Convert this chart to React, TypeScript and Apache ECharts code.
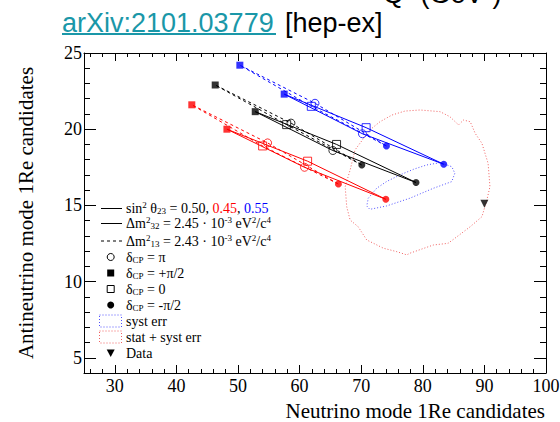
import React, { useEffect, useRef } from 'react';
import * as echarts from 'echarts';

// delta_CP order for every ellipse: -π/2, 0, +π/2, π
const deltaCP = ['-π/2', '0', '+π/2', 'π'];

// sin^2 θ23 = 0.45 (red)
const s045Normal = [[74.0, 15.4], [61.3, 17.9], [48.2, 20.0], [60.8, 17.5]];
const s045Inverted = [[66.3, 16.4], [54.0, 18.9], [42.5, 21.6], [54.8, 19.1]];
// sin^2 θ23 = 0.50 (black)
const s050Normal = [[78.9, 16.5], [66.0, 19.0], [52.8, 21.15], [65.4, 18.6]];
const s050Inverted = [[70.1, 17.65], [57.9, 20.3], [46.3, 22.9], [58.6, 20.4]];
// sin^2 θ23 = 0.55 (blue)
const s055Normal = [[83.4, 17.7], [70.8, 20.1], [57.5, 22.3], [70.2, 19.7]];
const s055Inverted = [[74.1, 18.9], [61.9, 21.5], [50.3, 24.2], [62.5, 21.7]];

const dataPoint = [90.0, 15.1];

const systErrContour = [
  [70.9, 14.96], [71.4, 14.74], [74.1, 14.96], [77.9, 15.47], [81.7, 16.12],
  [84.7, 16.56], [85.2, 17.11], [84.7, 17.54], [82.8, 17.8], [80.6, 17.65],
  [78.5, 17.37], [76.3, 17.0], [74.1, 16.56], [72.5, 16.12], [71.15, 15.47],
];

const statSystContour = [
  [71.4, 19.95], [73.05, 20.49], [75.0, 20.93], [77.1, 21.19], [79.55, 21.26],
  [82.8, 21.15], [84.4, 20.82], [85.8, 20.28], [86.6, 20.6], [87.7, 20.49],
  [88.5, 19.73], [89.6, 19.07], [90.6, 17.76], [90.9, 16.23], [90.4, 15.35],
  [89.6, 14.26], [87.7, 13.6], [85.2, 12.84], [84.1, 12.51], [81.7, 12.4],
  [77.9, 11.86], [77.4, 11.75], [75.8, 11.96], [73.6, 12.19], [70.9, 12.73],
  [69.5, 13.6], [68.2, 14.04], [67.65, 14.91], [67.4, 16.23], [68.2, 17.32],
  [69.0, 18.64],
];

const xMajorTicks = [30, 40, 50, 60, 70, 80, 90, 100];
const xMinorTicks = [26, 28, 32, 34, 36, 38, 42, 44, 46, 48, 52, 54, 56, 58, 62, 64, 66, 68, 72, 74, 76, 78, 82, 84, 86, 88, 92, 94, 96, 98];
const yMajorTicks = [5, 10, 15, 20, 25];
const yMinorTicks = [6, 7, 8, 9, 11, 12, 13, 14, 16, 17, 18, 19, 21, 22, 23, 24];

const X_MIN = 25;
const X_MAX = 100;
const Y_MIN = 4;
const Y_MAX = 25;

const RED = '#ff0000';
const BLUE = '#0000ff';
const BLACK = '#000000';
const SERIF = 'Liberation Serif';
const LINK = '#1a97a8';

const markerSymbols = ['circle', 'rect', 'rect', 'circle'];
const markerFilled = [true, false, true, false];
const markerSizes = [7, 8, 7, 8];

const ellipses = [
  { name: 'sin2θ23=0.45 Δm2_32', pts: s045Normal, color: RED, dashed: false },
  { name: 'sin2θ23=0.45 Δm2_13', pts: s045Inverted, color: RED, dashed: true },
  { name: 'sin2θ23=0.50 Δm2_32', pts: s050Normal, color: BLACK, dashed: false },
  { name: 'sin2θ23=0.50 Δm2_13', pts: s050Inverted, color: BLACK, dashed: true },
  { name: 'sin2θ23=0.55 Δm2_32', pts: s055Normal, color: BLUE, dashed: false },
  { name: 'sin2θ23=0.55 Δm2_13', pts: s055Inverted, color: BLUE, dashed: true },
];

function makeXAxis(position: 'bottom' | 'top', major: boolean, labels: boolean) {
  return {
    type: 'value',
    min: X_MIN,
    max: X_MAX,
    position,
    axisLine: { show: major, onZero: false, lineStyle: { color: BLACK, width: 1 } },
    axisTick: {
      show: true,
      inside: true,
      length: major ? 8 : 4,
      customValues: major ? xMajorTicks : xMinorTicks,
      lineStyle: { color: BLACK, width: 1 },
    },
    axisLabel: labels
      ? { show: true, customValues: xMajorTicks, fontFamily: SERIF, fontSize: 18, color: BLACK, margin: 4 }
      : { show: false },
    splitLine: { show: false },
  };
}

function makeYAxis(position: 'left' | 'right', major: boolean, labels: boolean) {
  return {
    type: 'value',
    min: Y_MIN,
    max: Y_MAX,
    position,
    axisLine: { show: major, onZero: false, lineStyle: { color: BLACK, width: 1 } },
    axisTick: {
      show: true,
      inside: true,
      length: major ? 12 : 6,
      customValues: major ? yMajorTicks : yMinorTicks,
      lineStyle: { color: BLACK, width: 1 },
    },
    axisLabel: labels
      ? { show: true, customValues: yMajorTicks, fontFamily: SERIF, fontSize: 18, color: BLACK, margin: 2 }
      : { show: false },
    splitLine: { show: false },
  };
}

const richBase = {
  n: { fontSize: 14, fontFamily: SERIF, fill: BLACK, verticalAlign: 'middle' },
  r: { fontSize: 14, fontFamily: SERIF, fill: RED, verticalAlign: 'middle' },
  bl: { fontSize: 14, fontFamily: SERIF, fill: BLUE, verticalAlign: 'middle' },
  sup: { fontSize: 9, fontFamily: SERIF, fill: BLACK, padding: [0, 0, 7, 0], verticalAlign: 'middle' },
  sub: { fontSize: 9, fontFamily: SERIF, fill: BLACK, padding: [5, 0, 0, 0], verticalAlign: 'middle' },
};

const legendRows = [
  '{n|sin}{sup|2}{n| θ}{sub|23}{n| = 0.50, }{r|0.45}{n|, }{bl|0.55}',
  '{n|Δm}{sup|2}{sub|32}{n| = 2.45 · 10}{sup|-3}{n| eV}{sup|2}{n|/c}{sup|4}',
  '{n|Δm}{sup|2}{sub|13}{n| = 2.43 · 10}{sup|-3}{n| eV}{sup|2}{n|/c}{sup|4}',
  '{n|δ}{sub|CP}{n| = π}',
  '{n|δ}{sub|CP}{n| = +π/2}',
  '{n|δ}{sub|CP}{n| = 0}',
  '{n|δ}{sub|CP}{n| = -π/2}',
  '{n|syst err}',
  '{n|stat + syst err}',
  '{n|Data}',
];
const legendRowY = [208.5, 223.5, 241, 257, 273, 289, 305, 321, 337, 353];

function buildLegend() {
  const els: any[] = [];
  const tx = 126;
  const sx = 110.7;
  legendRows.forEach((txt, i) => {
    els.push({
      type: 'text',
      x: tx,
      y: legendRowY[i],
      style: { text: txt, rich: richBase, verticalAlign: 'middle', align: 'left', fontFamily: SERIF, fontSize: 14, fill: BLACK },
      silent: true,
    });
  });
  const yy = (i: number) => legendRowY[i];
  els.push({ type: 'line', shape: { x1: 101, y1: yy(0), x2: 122, y2: yy(0) }, style: { stroke: BLACK, lineWidth: 1 } });
  els.push({ type: 'line', shape: { x1: 101, y1: yy(1), x2: 122, y2: yy(1) }, style: { stroke: BLACK, lineWidth: 1 } });
  els.push({ type: 'line', shape: { x1: 101, y1: yy(2), x2: 122, y2: yy(2) }, style: { stroke: BLACK, lineWidth: 1, lineDash: [3, 3] } });
  els.push({ type: 'circle', shape: { cx: sx, cy: yy(3), r: 3.5 }, style: { stroke: BLACK, fill: 'none', lineWidth: 1 } });
  els.push({ type: 'rect', shape: { x: sx - 3.5, y: yy(4) - 3.5, width: 7, height: 7 }, style: { fill: BLACK } });
  els.push({ type: 'rect', shape: { x: sx - 3.5, y: yy(5) - 3.5, width: 7, height: 7 }, style: { stroke: BLACK, fill: 'none', lineWidth: 1 } });
  els.push({ type: 'circle', shape: { cx: sx, cy: yy(6), r: 3.5 }, style: { fill: BLACK } });
  els.push({ type: 'rect', shape: { x: 99.5, y: yy(7) - 6, width: 22, height: 12 }, style: { stroke: '#5050ff', fill: 'none', lineWidth: 1, lineDash: [1, 2] } });
  els.push({ type: 'rect', shape: { x: 99.5, y: yy(8) - 6, width: 22, height: 12 }, style: { stroke: '#f06060', fill: 'none', lineWidth: 1, lineDash: [1, 2] } });
  els.push({ type: 'polygon', shape: { points: [[sx - 4, yy(9) - 3.5], [sx + 4, yy(9) - 3.5], [sx, yy(9) + 4]] }, style: { fill: BLACK } });
  return els;
}

export default function App() {
  const ref = useRef<HTMLDivElement>(null);
  useEffect(() => {
    if (!ref.current) return;
    const chart = echarts.init(ref.current, null, { renderer: 'svg' });

    const series: any[] = [];
    series.push({
      name: 'stat + syst err',
      type: 'line',
      data: [...statSystContour, statSystContour[0]],
      symbol: 'none',
      lineStyle: { color: '#f06060', width: 1, type: [1, 2] },
      z: 1,
      silent: true,
    });
    series.push({
      name: 'syst err',
      type: 'line',
      data: [...systErrContour, systErrContour[0]],
      symbol: 'none',
      lineStyle: { color: '#5050ff', width: 1, type: [1, 2] },
      z: 1,
      silent: true,
    });
    ellipses.forEach((e) => {
      series.push({
        name: e.name,
        type: 'line',
        data: [...e.pts, e.pts[0]],
        symbol: 'none',
        lineStyle: { color: e.color, width: 1, type: e.dashed ? [3, 3] : 'solid' },
        z: 2,
        silent: true,
      });
      series.push({
        name: e.name + ' δCP',
        type: 'scatter',
        data: e.pts.map((p, i) => ({
          value: p,
          name: 'δCP = ' + deltaCP[i],
          symbol: markerSymbols[i],
          symbolSize: markerSizes[i],
          itemStyle: markerFilled[i]
            ? { color: e.color }
            : { color: 'rgba(0,0,0,0)', borderColor: e.color, borderWidth: 1 },
        })),
        z: 3,
        silent: true,
      });
    });
    series.push({
      name: 'Data',
      type: 'scatter',
      data: [dataPoint],
      symbol: 'triangle',
      symbolRotate: 180,
      symbolSize: 8,
      itemStyle: { color: BLACK },
      z: 4,
      silent: true,
    });

    chart.setOption({
      animation: false,
      backgroundColor: '#ffffff',
      textStyle: { fontFamily: SERIF },
      grid: { left: 84, right: 14, top: 53, bottom: 49, containLabel: false, outerBoundsMode: 'none' },
      xAxis: [
        makeXAxis('bottom', true, true),
        makeXAxis('bottom', false, false),
        makeXAxis('top', true, false),
        makeXAxis('top', false, false),
      ],
      yAxis: [
        makeYAxis('left', true, true),
        makeYAxis('left', false, false),
        makeYAxis('right', true, false),
        makeYAxis('right', false, false),
      ],
      series,
      graphic: [
        {
          type: 'text', x: 62, y: 23,
          style: { text: 'arXiv:2101.03779', font: '27px "Liberation Sans"', fill: LINK, verticalAlign: 'middle' },
        },
        { type: 'line', shape: { x1: 62, y1: 34, x2: 276, y2: 34 }, style: { stroke: LINK, lineWidth: 2 } },
        {
          type: 'text', x: 285, y: 23,
          style: { text: '[hep-ex]', font: '27px "Liberation Sans"', fill: BLACK, verticalAlign: 'middle' },
        },
        {
          type: 'text', x: 383, y: 7,
          style: { text: 'Q² (GeV²)', font: '27px "Liberation Sans"', fill: BLACK, verticalAlign: 'bottom' },
        },
        {
          type: 'text', x: 545, y: 411,
          style: { text: 'Neutrino mode 1Re candidates', font: '21px "Liberation Serif"', fill: BLACK, align: 'right', verticalAlign: 'middle' },
        },
        {
          type: 'text', x: 26, y: 213, rotation: Math.PI / 2,
          style: { text: 'Antineutrino mode 1Re candidates', font: '21px "Liberation Serif"', fill: BLACK, align: 'center', verticalAlign: 'middle' },
        },
        ...buildLegend(),
      ],
    });
    return () => chart.dispose();
  }, []);
  return <div ref={ref} style={{ position: 'absolute', left: 0, top: 0, width: 560, height: 422 }} />;
}
